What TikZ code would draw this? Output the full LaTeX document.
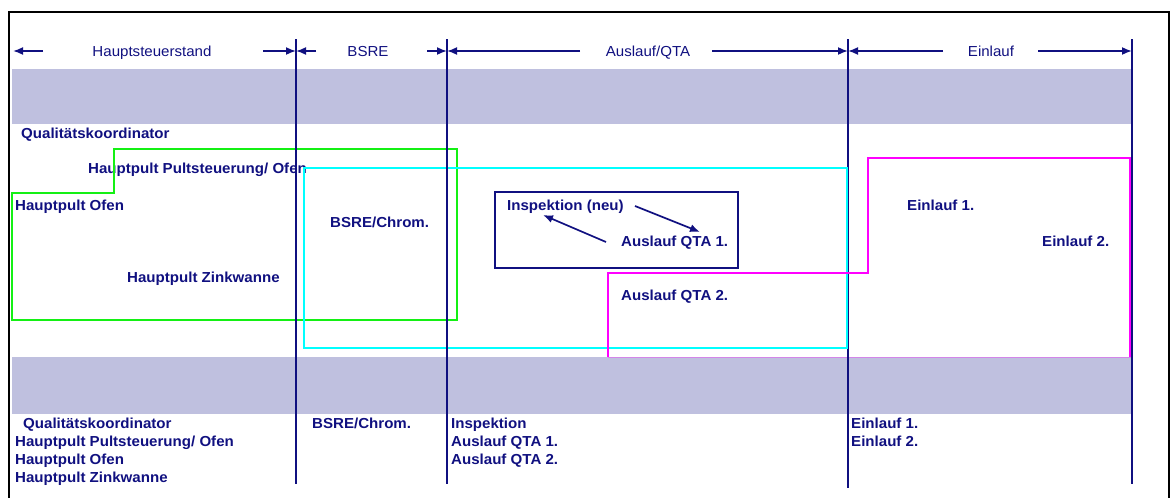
\documentclass[tikz,border=0pt]{standalone}
\usepackage{fontspec}
\setmainfont[FakeStretch=1.04]{Liberation Sans}
\usetikzlibrary{arrows.meta}
\definecolor{navy}{RGB}{16,16,128}
\definecolor{bandc}{RGB}{191,192,223}
\definecolor{grn}{RGB}{20,240,20}
\definecolor{cyn}{RGB}{0,255,255}
\definecolor{mag}{RGB}{255,0,255}
\begin{document}
\begin{tikzpicture}[x=1pt,y=-1pt,
  lbl/.style={font=\fontsize{14.5}{17}\selectfont\bfseries, text=navy, anchor=base west, inner sep=0pt},
  hdr/.style={font=\fontsize{14.5}{17}\selectfont, text=navy, anchor=base, inner sep=0pt},
  divider/.style={navy, line width=1.7pt},
  span/.style={navy, line width=1.7pt, -{Latex[length=10pt,width=8pt]}},
  zone/.style={line width=2.6pt},
  bandfill/.style={fill=bandc, draw=none}]
\useasboundingbox (0,0) rectangle (1173,498);

% outer frame
\draw[black, line width=2pt] (9,498) -- (9,12) -- (1169,12) -- (1169,498);

% grey bands
\fill[bandfill] (12,69) rectangle (1133,124);
\fill[bandfill] (12,357) rectangle (1133,414);
\draw[color=mag!30!bandc, line width=0.8pt] (608,357) -- (1131,357);

% section dividers hidden under the coloured zones
\draw[divider] (848,39) -- (848,488);
\draw[divider] (1132,39) -- (1132,484);

% labels inside the zones
\node[lbl] (qk)  at (21,138)  {Qualitätskoordinator};
\node[lbl] (hps) at (88,173)  {Hauptpult Pultsteuerung/ Ofen};
\node[lbl] (hpo) at (15,210)  {Hauptpult Ofen};
\node[lbl] (bc)  at (330,227) {BSRE/Chrom.};
\node[lbl] (hpz) at (127,282) {Hauptpult Zinkwanne};
\node[lbl] (insp) at (507,210) {Inspektion (neu)};
\node[lbl] (qta1) at (621,246) {Auslauf QTA 1.};
\node[lbl] (qta2) at (621,300) {Auslauf QTA 2.};
\node[lbl] (ein1) at (907,210) {Einlauf 1.};
\node[lbl] (ein2) at (1042,246) {Einlauf 2.};

% coloured zones
\draw[grn, zone] (12,193) -- (114,193) -- (114,149) -- (457,149) -- (457,320) -- (12,320) -- cycle;
\draw[cyn, zone] (304,168) rectangle (847,348);
\draw[mag, zone] (608,357) -- (608,273) -- (868,273) -- (868,158) -- (1130,158) -- (1130,357);

% inspection box with exchange arrows
\draw[navy, line width=1.7pt] (495,192) rectangle (738,268);
\coordinate (a1s) at (635,206);
\coordinate (a1e) at (700,232);
\coordinate (a2s) at (606,242);
\coordinate (a2e) at (543,215);
\draw[span] (a1s) -- (a1e);
\draw[span] (a2s) -- (a2e);

% section dividers drawn on top
\draw[divider] (296,39) -- (296,484);
\draw[divider] (447,39) -- (447,484);
\coordinate (d1) at (296,51);
\coordinate (d2) at (447,51);
\coordinate (d3) at (848,51);
\coordinate (d4) at (1132,51);

% header spans
\node[hdr] (h1) at (152,56) {Hauptsteuerstand};
\node[hdr] (h2) at (368,56) {BSRE};
\node[hdr] (h3) at (648,56) {Auslauf/QTA};
\node[hdr] (h4) at (991,56) {Einlauf};
\coordinate (l0) at (13,51);
\draw[span] (43,51) -- (l0);
\draw[span] (263,51) -- (d1);
\draw[span] (316,51) -- (d1);
\draw[span] (427,51) -- (d2);
\draw[span] (580,51) -- (d2);
\draw[span] (712,51) -- (d3);
\draw[span] (943,51) -- (d3);
\draw[span] (1038,51) -- (d4);

% staffing lists below the lower band
\node[lbl] (bqk)  at (23,428) {Qualitätskoordinator};
\node[lbl] (bhps) at (15,446) {Hauptpult Pultsteuerung/ Ofen};
\node[lbl] (bhpo) at (15,464) {Hauptpult Ofen};
\node[lbl] (bhpz) at (15,482) {Hauptpult Zinkwanne};
\node[lbl] (bbc)  at (312,428) {BSRE/Chrom.};
\node[lbl] (bin)  at (451,428) {Inspektion};
\node[lbl] (bq1)  at (451,446) {Auslauf QTA 1.};
\node[lbl] (bq2)  at (451,464) {Auslauf QTA 2.};
\node[lbl] (be1)  at (851,428) {Einlauf 1.};
\node[lbl] (be2)  at (851,446) {Einlauf 2.};
\end{tikzpicture}
\end{document}
